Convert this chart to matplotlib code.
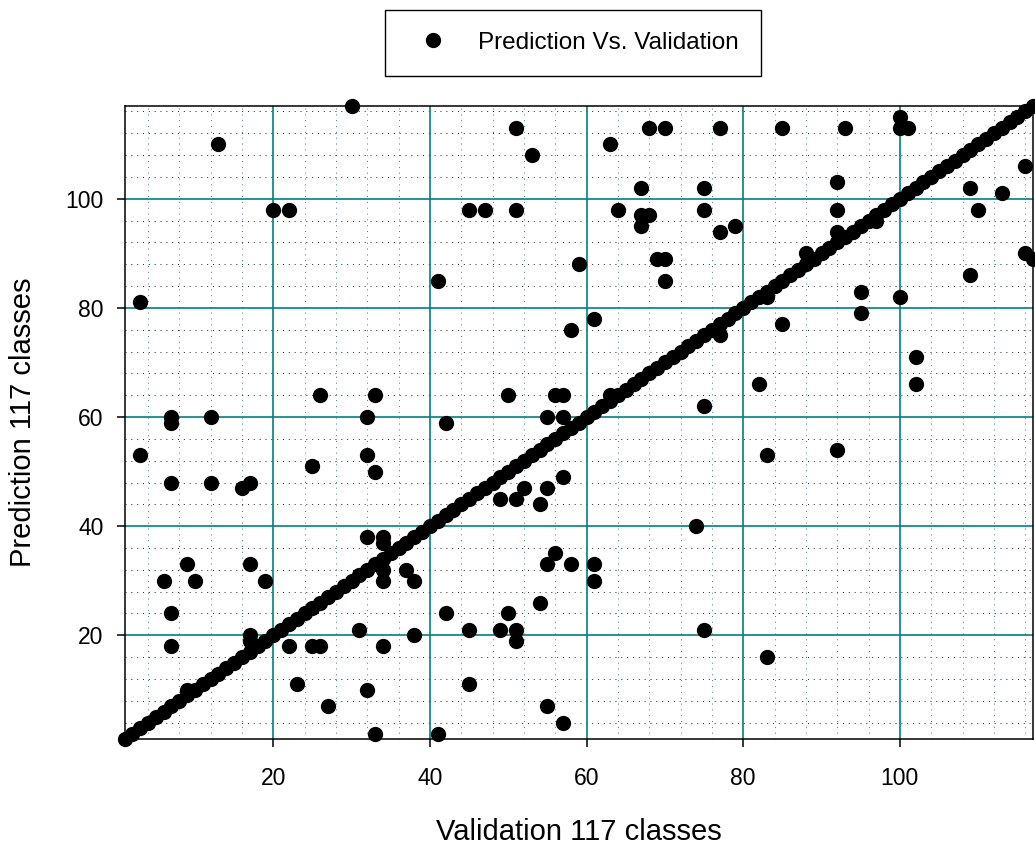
import matplotlib
matplotlib.use("Agg")
import matplotlib.pyplot as plt
import numpy as np

plt.rcParams['font.family'] = ['Liberation Sans', 'DejaVu Sans']

# ---- data ----
# correctly predicted classes (prediction == validation), classes 1..117
diag_classes = list(range(1, 118))

# misclassified samples: validation class (x) vs predicted class (y)
off_x = [30, 13, 20, 22, 41, 3, 26, 33, 7, 12, 32, 42,
         51, 53, 68, 70, 77, 85, 63, 67, 75,
         45, 47, 51, 64, 67, 68, 67, 75, 77, 79,
         69, 70, 70, 59, 61, 58, 77, 82, 75, 50, 56, 57, 55, 57, 63, 83, 85,
         93, 100, 100, 101, 116, 109, 113, 110, 92, 92, 92, 97, 88, 95, 95, 100, 109, 116, 117, 102, 102,
         7, 3, 25, 32, 33, 7, 12, 16, 17, 32, 34, 34, 34, 34, 37, 38, 9, 6, 10, 17, 19, 7, 7, 17, 17,
         22, 25, 26, 31, 34, 38, 42, 23, 32, 27, 33, 41, 9,
         83, 57, 52, 55, 49, 51, 54, 74, 56, 55, 58, 61, 61, 54, 50, 45, 49, 51, 51, 75, 83, 45, 55, 57, 92]
off_y = [117, 110, 98, 98, 85, 81, 64, 64, 60, 60, 60, 59,
         113, 108, 113, 113, 113, 113, 110, 102, 102,
         98, 98, 98, 98, 97, 97, 95, 98, 94, 95,
         89, 89, 85, 88, 78, 76, 75, 66, 62, 64, 64, 64, 60, 60, 64, 82, 77,
         113, 115, 113, 113, 106, 102, 101, 98, 103, 98, 94, 96, 90, 83, 79, 82, 86, 90, 89, 71, 66,
         59, 53, 51, 53, 50, 48, 48, 47, 48, 38, 38, 37, 32, 30, 32, 30, 33, 30, 30, 33, 30, 24, 18, 20, 19,
         18, 18, 18, 21, 18, 20, 24, 11, 10, 7, 2, 2, 10,
         53, 49, 47, 47, 45, 45, 44, 40, 35, 33, 33, 33, 30, 26, 24, 21, 21, 21, 19, 21, 16, 11, 7, 4, 54]

x_ticks = [20, 40, 60, 80, 100]
y_ticks = [20, 40, 60, 80, 100]
x_label = "Validation 117 classes"
y_label = "Prediction 117 classes"
legend_label = "Prediction Vs. Validation"

# ---- figure ----
W, H = 1035, 847
fig = plt.figure(figsize=(W / 100, H / 100), dpi=100)
left, right, top, bottom = 124.5, 1033, 106, 739
ax = fig.add_axes([left / W, 1 - bottom / H, (right - left) / W, (bottom - top) / H])

ax.set_xlim(1, 117)
ax.set_ylim(1, 117)

teal = '#008080'
# minor dotted grid every 4 units
minor = [v for v in range(4, 117, 4) if v % 20 != 0]
for v in minor:
    ax.axvline(v, color='#3a7f7f', lw=0.7, ls=(0, (1, 5)), zorder=1)
    ax.axhline(v, color='#222222', lw=0.7, ls=(0, (1, 5)), zorder=1)
for v in x_ticks:
    ax.axvline(v, color=teal, lw=1.2, zorder=1.5)
for v in y_ticks:
    ax.axhline(v, color=teal, lw=1.2, zorder=1.5)

xs = np.concatenate([diag_classes, off_x])
ys = np.concatenate([diag_classes, off_y])
line, = ax.plot(xs, ys, 'o', color='black', markersize=11, markeredgewidth=0,
                clip_on=False, zorder=3, label=legend_label)

ax.set_xticks(x_ticks)
ax.set_yticks(y_ticks)
ax.tick_params(axis='both', direction='out', length=6, width=1.1, labelsize=16.5, color='black')
ax.tick_params(axis='x', pad=14)
ax.tick_params(axis='y', pad=9)
for s in ax.spines.values():
    s.set_linewidth(1.1)
    s.set_color('black')
    s.set_zorder(2)

ax.set_xlabel(x_label, fontsize=21)
ax.set_ylabel(y_label, fontsize=21)
ax.xaxis.set_label_coords(0.5, (bottom - 832) / (bottom - top))
ax.xaxis.label.set_va('center')
ax.yaxis.set_label_coords((23 - left) / (right - left), 0.5)
ax.yaxis.label.set_va('center')

leg = fig.legend(handles=[line], loc='center',
                 bbox_to_anchor=(572.8 / W, 1 - 42.7 / H),
                 fontsize=17.5, frameon=True, fancybox=False, framealpha=1,
                 edgecolor='black', borderpad=0.9, handlelength=2.2,
                 handletextpad=0.75, borderaxespad=0)
leg.get_frame().set_linewidth(1.0)

fig.savefig("out.png", dpi=100)
